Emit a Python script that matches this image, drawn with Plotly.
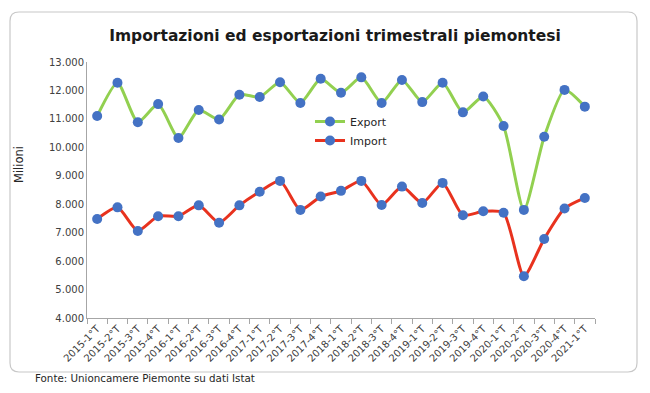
import plotly.graph_objects as go

quarters = ["2015-1°T","2015-2°T","2015-3°T","2015-4°T","2016-1°T","2016-2°T","2016-3°T","2016-4°T",
            "2017-1°T","2017-2°T","2017-3°T","2017-4°T","2018-1°T","2018-2°T","2018-3°T","2018-4°T",
            "2019-1°T","2019-2°T","2019-3°T","2019-4°T","2020-1°T","2020-2°T","2020-3°T","2020-4°T",
            "2021-1°T"]
export_vals = [11100,12270,10880,11520,10330,11310,10980,11850,11770,12290,11560,12410,11920,12460,
               11560,12370,11590,12270,11230,11790,10750,7800,10370,12020,11430]
import_vals = [7480,7890,7060,7580,7580,7960,7350,7960,8440,8820,7800,8270,8470,8820,7970,8620,
               8040,8750,7610,7750,7700,5470,6780,7850,8220]
y_ticks = [4000,5000,6000,7000,8000,9000,10000,11000,12000,13000]
y_ticktext = ["4.000","5.000","6.000","7.000","8.000","9.000","10.000","11.000","12.000","13.000"]

FONT = "DejaVu Sans"
fig = go.Figure()
fig.add_trace(go.Scatter(x=quarters, y=export_vals, name="Export", mode="lines+markers",
                         line=dict(color="#92D050", width=3, shape="spline", smoothing=0.6),
                         marker=dict(color="#4472C4", size=10)))
fig.add_trace(go.Scatter(x=quarters, y=import_vals, name="Import", mode="lines+markers",
                         line=dict(color="#E8321E", width=3, shape="spline", smoothing=0.6),
                         marker=dict(color="#4472C4", size=10)))

OFF = 8  # page body margin
L, R, T, B = 87 - OFF, 595 - OFF, 62 - OFF, 318 - OFF
W, H = 650 - 2 * OFF, 393 - 2 * OFF
pw, ph = R - L, B - T
def px(x): return (x - OFF - L) / pw
def py(y): return (B - (y - OFF)) / ph

# rounded border
x0, x1, y0, y1 = px(10), px(637), py(12), py(372)
rx, ry = 9 / pw, 9 / ph
path = (f"M {x0+rx},{y0} L {x1-rx},{y0} Q {x1},{y0} {x1},{y0-ry} "
        f"L {x1},{y1+ry} Q {x1},{y1} {x1-rx},{y1} L {x0+rx},{y1} Q {x0},{y1} {x0},{y1+ry} "
        f"L {x0},{y0-ry} Q {x0},{y0} {x0+rx},{y0} Z")

fig.update_layout(
    width=W, height=H,
    margin=dict(l=L, r=W - R, t=T, b=H - B),
    paper_bgcolor="white", plot_bgcolor="white",
    font=dict(family=FONT, color="#404040", size=10),
    title=dict(text="<b>Importazioni ed esportazioni trimestrali piemontesi</b>",
               x=px(335), xref="paper", xanchor="center", y=1 - (36 - OFF) / H, yanchor="middle",
               font=dict(family=FONT, size=15.5, color="#1a1a1a")),
    showlegend=True,
    legend=dict(x=px(310), y=py(107), xanchor="left", yanchor="top",
                bgcolor="rgba(0,0,0,0)", font=dict(family=FONT, size=11, color="#262626"),
                itemwidth=30, tracegroupgap=2),
    shapes=[dict(type="path", path=path, xref="paper", yref="paper",
                 line=dict(color="#C8C8C8", width=1.2), fillcolor="rgba(0,0,0,0)", layer="below")],
    annotations=[
        dict(text="Milioni", x=px(19), y=py(165), xref="paper", yref="paper", showarrow=False,
             xanchor="center", yanchor="middle",
             textangle=-90, font=dict(family=FONT, size=11.5, color="#262626")),
        dict(text="Fonte: Unioncamere Piemonte su dati Istat", x=px(33), y=py(378), xref="paper",
             yref="paper", xanchor="left", yanchor="middle", showarrow=False,
             font=dict(family=FONT, size=10.3, color="#262626")),
    ],
)
fig.update_xaxes(type="category", range=[-0.5, len(quarters) - 0.5], tickangle=-45,
                 showline=True, linecolor="#A6A6A6", linewidth=1, ticks="outside",
                 tickson="boundaries", ticklen=5, tickcolor="#A6A6A6", showgrid=False,
                 tickfont=dict(family=FONT, size=10, color="#404040"))
fig.update_yaxes(range=[4000, 13000], tickvals=y_ticks, ticktext=y_ticktext, showline=True,
                 linecolor="#A6A6A6", linewidth=1, showgrid=False, zeroline=False, ticks="",
                 tickfont=dict(family=FONT, size=10, color="#404040"))

fig.write_html("out.html")
